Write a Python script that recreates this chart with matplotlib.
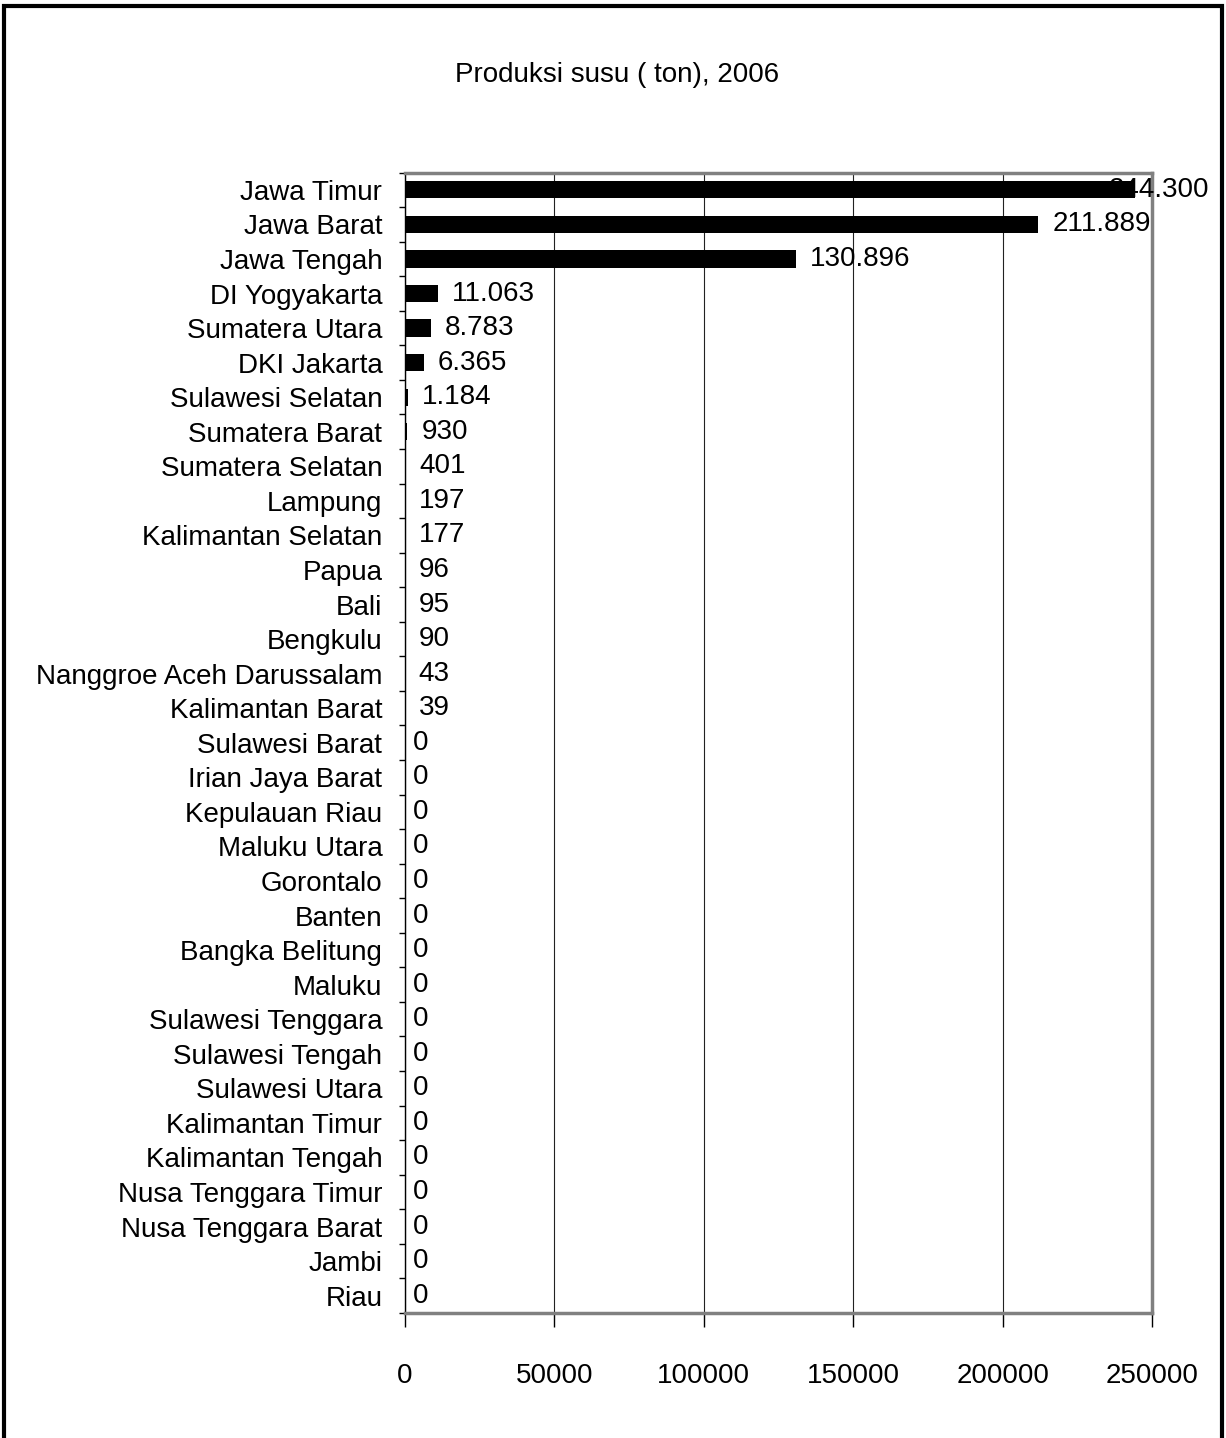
import numpy as np
import matplotlib.pyplot as plt
from matplotlib.patches import Rectangle

# Data
provinces = ['Jawa Timur', 'Jawa Barat', 'Jawa Tengah', 'DI Yogyakarta', 'Sumatera Utara',
             'DKI Jakarta', 'Sulawesi Selatan', 'Sumatera Barat', 'Sumatera Selatan', 'Lampung',
             'Kalimantan Selatan', 'Papua', 'Bali', 'Bengkulu', 'Nanggroe Aceh Darussalam',
             'Kalimantan Barat', 'Sulawesi Barat', 'Irian Jaya Barat', 'Kepulauan Riau',
             'Maluku Utara', 'Gorontalo', 'Banten', 'Bangka Belitung', 'Maluku',
             'Sulawesi Tenggara', 'Sulawesi Tengah', 'Sulawesi Utara', 'Kalimantan Timur',
             'Kalimantan Tengah', 'Nusa Tenggara Timur', 'Nusa Tenggara Barat', 'Jambi', 'Riau']
produksi = [244300, 211889, 130896, 11063, 8783, 6365, 1184, 930, 401, 197, 177, 96, 95, 90,
            43, 39, 0, 0, 0, 0, 0, 0, 0, 0, 0, 0, 0, 0, 0, 0, 0, 0, 0]
x_ticks = [0, 50000, 100000, 150000, 200000, 250000]

plt.rcParams['font.family'] = ['Liberation Sans Narrow', 'Liberation Sans', 'DejaVu Sans']
FS = 20

fig = plt.figure(figsize=(12.26, 14.38), dpi=100)
ax = fig.add_axes([0.330, 0.087, 0.610, 0.793])

y = np.arange(len(provinces))
ax.barh(y, produksi, height=0.5, color='black', zorder=3)

def fmt(v):
    return '{:,}'.format(v).replace(',', '.')

for yi, v in zip(y, produksi):
    if v > 240000:
        off = -19      # label pushed back over the bar end, as in the original
    elif v == 0:
        off = 6
    else:
        off = 10
    ax.annotate(fmt(v), (v, yi), xytext=(off, 0), textcoords='offset points',
                va='center', ha='left', fontsize=FS, zorder=4)

ax.set_xlim(0, 250000)
ax.set_ylim(len(provinces) - 0.5, -0.5)
ax.set_xticks(x_ticks)
ax.set_xticklabels([str(t) for t in x_ticks], fontsize=FS)
ax.tick_params(axis='x', length=10, width=1, pad=26)
ax.grid(axis='x', color='#222222', linewidth=0.8, zorder=0)

ax.set_yticks(y)
ax.set_yticklabels(provinces, fontsize=FS)
ax.tick_params(axis='y', length=0, pad=16)
ax.set_yticks(np.arange(-0.5, len(provinces), 1), minor=True)
ax.tick_params(axis='y', which='minor', length=4, width=1)

for s in ['top', 'right', 'bottom']:
    ax.spines[s].set_color('#808080')
    ax.spines[s].set_linewidth(2.5)
ax.spines['left'].set_color('black')
ax.spines['left'].set_linewidth(1)

fig.text(0.503, 0.948, 'Produksi susu ( ton), 2006', ha='center', va='center', fontsize=FS)

fig.patches.append(Rectangle((0.003, -0.01), 0.994, 1.006, transform=fig.transFigure,
                             fill=False, edgecolor='black', linewidth=3))

fig.savefig('out.png', dpi=100)
